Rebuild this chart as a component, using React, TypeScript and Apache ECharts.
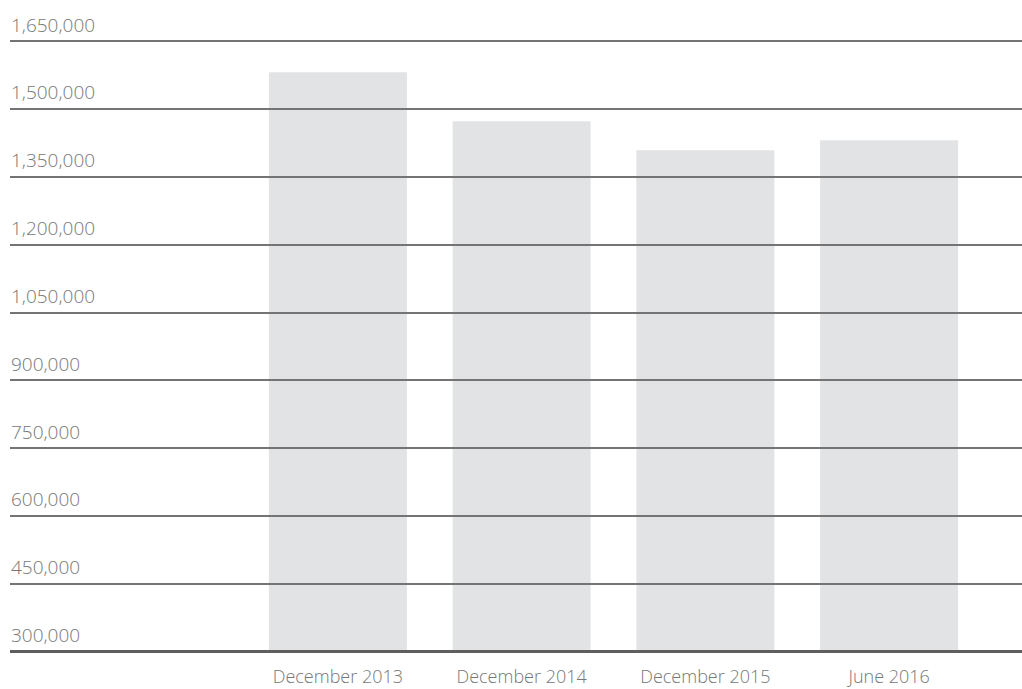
import React, { useEffect, useRef } from "react";
import * as echarts from "echarts";

const categories = ["December 2013", "December 2014", "December 2015", "June 2016"];
const values = [1580800, 1472500, 1408400, 1430500];
const yMin = 300000;
const yMax = 1650000;
const yStep = 150000;

const FONT = "'Open Sans', 'Noto Sans', sans-serif";

export default function App() {
  const ref = useRef<HTMLDivElement>(null);
  useEffect(() => {
    if (!ref.current) return;
    const chart = echarts.init(ref.current, null, { renderer: "svg" });
    chart.setOption({
      animation: false,
      backgroundColor: "#ffffff",
      grid: [
        { left: 10, right: 0, top: 41, bottom: 37.5, containLabel: false },
        { left: 246, right: 41, top: 41, bottom: 37.5, containLabel: false },
      ],
      xAxis: [
        { type: "value", gridIndex: 0, show: false, min: 0, max: 1 },
        {
          type: "category",
          gridIndex: 1,
          data: categories,
          axisLine: { show: false },
          axisTick: { show: false },
          axisLabel: {
            color: "#777777",
            fontFamily: FONT,
            fontWeight: 300,
            fontSize: 18,
            margin: 15,
          },
        },
      ],
      yAxis: [
        {
          type: "value",
          gridIndex: 0,
          min: yMin,
          max: yMax,
          interval: yStep,
          z: 10,
          axisLine: { show: false },
          axisTick: { show: false },
          splitLine: { show: true, lineStyle: { color: "#747474", width: 2 } },
          axisLabel: {
            inside: true,
            margin: 0,
            verticalAlign: "bottom",
            padding: [0, 0, 7, 1],
            color: "#777777",
            fontFamily: FONT,
            fontWeight: 300,
            fontSize: 19,
            formatter: (v: number) => v.toLocaleString("en-US"),
          },
        },
        {
          type: "value",
          gridIndex: 1,
          min: yMin,
          max: yMax,
          interval: yStep,
          show: false,
          splitLine: { show: false },
        },
      ],
      series: [
        {
          type: "bar",
          xAxisIndex: 1,
          yAxisIndex: 1,
          data: values,
          barWidth: 138,
          itemStyle: { color: "#e2e3e5" },
          z: 2,
        },
        {
          type: "line",
          xAxisIndex: 0,
          yAxisIndex: 0,
          data: [[0, yMin], [1, yMin]],
          symbol: "none",
          z: 12,
          lineStyle: { color: "#5e5e5e", width: 3 },
          silent: true,
        },
      ],
    });
    return () => chart.dispose();
  }, []);
  return (
    <div
      ref={ref}
      style={{ position: "fixed", left: 0, top: 0, width: 1022, height: 689 }}
    />
  );
}
